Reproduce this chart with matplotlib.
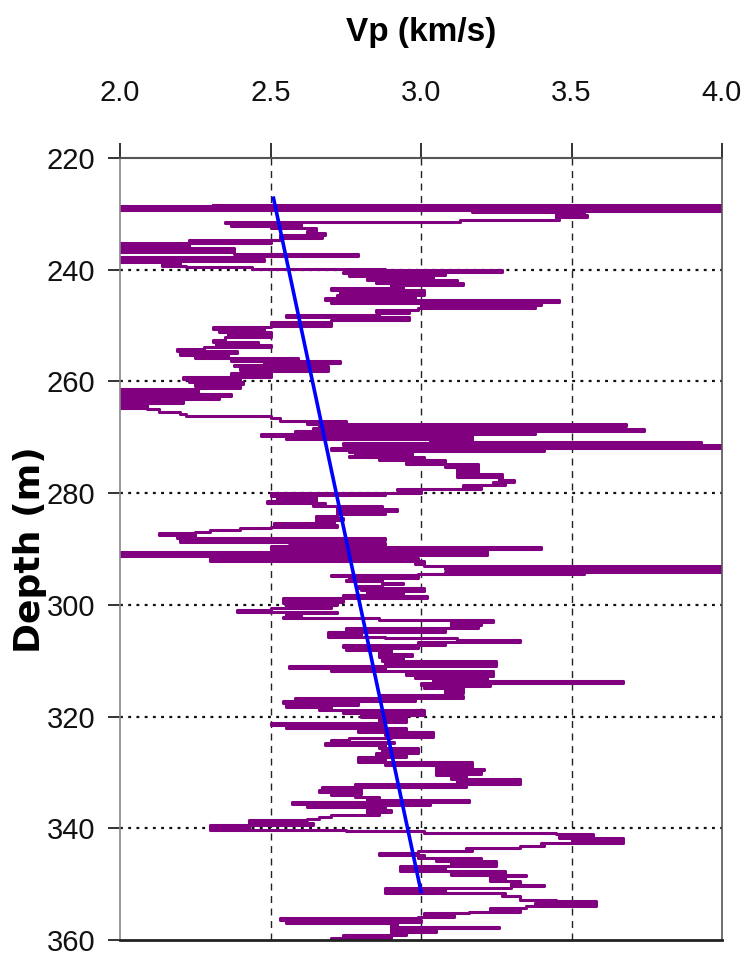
import matplotlib
matplotlib.use("Agg")
import matplotlib.pyplot as plt

plt.rcParams['font.family'] = ['Liberation Sans', 'DejaVu Sans']

# sonic log (depth in m, Vp in km/s)
log_depth = [
    228.4, 228.6, 228.9, 229.1, 229.3, 229.5, 229.7, 229.9, 230.2, 230.5,
    230.8, 231.1, 231.4, 231.7, 231.9, 232.1, 232.3, 232.6, 233.1, 233.4,
    233.7, 234.0, 234.3, 234.6, 235.0, 235.3, 235.6, 235.8, 236.2, 236.6,
    236.9, 237.2, 237.5, 237.8, 238.1, 238.4, 238.7, 239.0, 239.3, 239.6,
    239.9, 240.1, 240.4, 240.6, 240.9, 241.2, 241.5, 241.8, 242.1, 242.4,
    242.7, 243.0, 243.3, 243.6, 243.9, 244.2, 244.5, 244.8, 245.1, 245.4,
    245.7, 246.0, 246.3, 246.6, 246.9, 247.2, 247.5, 247.8, 248.1, 248.5,
    249.0, 249.4, 249.7, 250.0, 250.3, 250.6, 250.9, 251.2, 251.5, 251.8,
    252.1, 252.5, 252.9, 253.2, 253.5, 253.9, 254.2, 254.6, 254.9, 255.2,
    255.5, 255.8, 256.1, 256.4, 256.7, 257.0, 257.3, 257.6, 257.9, 258.2,
    258.5, 258.8, 259.2, 259.5, 259.8, 260.1, 260.5, 260.8, 261.1, 261.4,
    261.7, 262.0, 262.3, 262.6, 262.9, 263.2, 263.5, 263.8, 264.1, 264.4,
    264.7, 265.0, 265.4, 265.8, 266.2, 266.6, 267.0, 267.3, 267.6, 267.9,
    268.1, 268.3, 268.6, 268.9, 269.1, 269.4, 269.7, 270.0, 270.3, 270.6,
    270.9, 271.1, 271.4, 271.6, 271.8, 272.0, 272.3, 272.5, 272.7, 272.9,
    273.1, 273.3, 273.5, 273.8, 274.1, 274.4, 274.7, 275.0, 275.3, 275.6,
    275.9, 276.2, 276.5, 276.8, 277.1, 277.4, 277.7, 278.0, 278.3, 278.6,
    278.9, 279.2, 279.5, 279.9, 280.2, 280.4, 280.6, 280.8, 281.1, 281.4,
    281.7, 282.0, 282.3, 282.6, 282.9, 283.2, 283.5, 283.8, 284.1, 284.5,
    284.8, 285.1, 285.4, 285.7, 286.0, 286.3, 286.6, 286.9, 287.2, 287.5,
    287.8, 288.1, 288.4, 288.7, 289.0, 289.4, 289.7, 290.0, 290.3, 290.6,
    290.8, 291.1, 291.3, 291.6, 291.8, 292.1, 292.4, 292.7, 293.0, 293.3,
    293.5, 293.7, 293.9, 294.1, 294.3, 294.5, 294.7, 294.9, 295.2, 295.4,
    295.6, 295.8, 296.0, 296.3, 296.6, 296.9, 297.1, 297.3, 297.6, 297.9,
    298.2, 298.5, 298.8, 299.1, 299.4, 299.7, 300.0, 300.3, 300.6, 300.9,
    301.2, 301.5, 301.8, 302.1, 302.4, 302.7, 303.0, 303.3, 303.6, 303.9,
    304.2, 304.5, 304.8, 305.1, 305.4, 305.7, 306.0, 306.3, 306.6, 306.9,
    307.2, 307.5, 307.8, 308.1, 308.5, 308.8, 309.1, 309.4, 309.7, 310.0,
    310.4, 310.7, 311.0, 311.3, 311.6, 311.9, 312.2, 312.5, 312.8, 313.1,
    313.4, 313.7, 314.0, 314.3, 314.6, 314.9, 315.2, 315.5, 315.8, 316.1,
    316.4, 316.7, 317.0, 317.3, 317.6, 317.9, 318.2, 318.5, 318.8, 319.1,
    319.4, 319.7, 320.0, 320.3, 320.6, 320.9, 321.2, 321.5, 321.8, 322.1,
    322.4, 322.7, 323.0, 323.3, 323.6, 323.9, 324.2, 324.5, 324.8, 325.1,
    325.4, 325.7, 326.0, 326.3, 326.6, 326.9, 327.2, 327.5, 327.8, 328.1,
    328.4, 328.7, 329.0, 329.3, 329.6, 329.9, 330.2, 330.5, 330.8, 331.1,
    331.4, 331.7, 332.0, 332.3, 332.6, 332.9, 333.2, 333.5, 333.8, 334.1,
    334.4, 334.7, 335.0, 335.3, 335.6, 335.9, 336.2, 336.5, 336.8, 337.1,
    337.4, 337.7, 338.0, 338.3, 338.6, 338.9, 339.1, 339.4, 339.7, 340.0,
    340.3, 340.5, 340.8, 341.1, 341.4, 341.7, 342.0, 342.3, 342.6, 342.9,
    343.2, 343.5, 343.8, 344.1, 344.4, 344.7, 345.0, 345.3, 345.6, 345.9,
    346.2, 346.5, 346.8, 347.1, 347.4, 347.7, 348.0, 348.3, 348.6, 348.9,
    349.2, 349.5, 349.8, 350.1, 350.4, 350.7, 351.0, 351.3, 351.6, 351.9,
    352.2, 352.5, 352.8, 353.1, 353.4, 353.7, 354.0, 354.3, 354.6, 354.9,
    355.2, 355.5, 355.8, 356.1, 356.4, 356.7, 357.0, 357.3, 357.6, 357.9,
    358.2, 358.5, 358.8, 359.1, 359.4, 359.7, 360.0, 360.3,
]
log_vp = [
    2.31, 4.05, 1.95, 4.05, 2.00, 4.05, 3.17, 3.54, 3.45, 3.55,
    3.45, 3.46, 3.13, 2.35, 2.60, 2.37, 2.60, 2.50, 2.65, 2.62,
    2.68, 2.53, 2.67, 2.53, 2.23, 2.50, 2.00, 2.23, 2.00, 2.38,
    2.00, 2.38, 2.79, 2.47, 2.00, 2.48, 2.00, 2.20, 2.14, 2.22,
    2.44, 2.88, 3.27, 2.74, 3.08, 2.76, 3.04, 2.82, 3.12, 2.85,
    3.14, 2.90, 2.94, 2.70, 3.01, 2.73, 3.01, 2.72, 2.98, 2.68,
    3.46, 2.70, 3.40, 3.00, 3.38, 2.99, 2.85, 2.96, 2.86, 2.55,
    2.96, 2.70, 2.50, 2.70, 2.50, 2.31, 2.48, 2.33, 2.50, 2.36,
    2.50, 2.35, 2.31, 2.46, 2.32, 2.50, 2.28, 2.19, 2.39, 2.20,
    2.36, 2.25, 2.59, 2.37, 2.73, 2.48, 2.38, 2.69, 2.40, 2.69,
    2.50, 2.37, 2.50, 2.21, 2.40, 2.23, 2.41, 2.25, 2.40, 2.26,
    2.00, 2.26, 1.98, 2.37, 2.00, 2.33, 2.00, 2.21, 1.99, 2.09,
    1.99, 2.09, 2.13, 2.20, 2.22, 2.50, 2.53, 2.75, 2.62, 3.68,
    2.66, 3.55, 2.64, 3.74, 2.58, 3.38, 2.47, 3.17, 2.55, 3.17,
    3.03, 3.93, 2.74, 4.05, 2.78, 4.05, 2.70, 3.41, 2.76, 2.97,
    2.78, 2.97, 2.76, 3.01, 2.86, 3.08, 2.95, 3.19, 3.08, 3.19,
    3.12, 3.19, 3.12, 3.27, 3.12, 3.27, 3.26, 3.31, 3.24, 3.28,
    3.14, 3.20, 2.92, 3.00, 2.50, 2.88, 2.50, 2.65, 2.52, 2.65,
    2.49, 2.68, 2.64, 2.87, 2.72, 2.92, 2.72, 2.88, 2.72, 2.65,
    2.74, 2.65, 2.71, 2.51, 2.72, 2.50, 2.40, 2.30, 2.25, 2.13,
    2.25, 2.19, 2.88, 2.20, 2.56, 2.88, 2.50, 3.40, 2.50, 3.22,
    1.97, 3.22, 1.99, 2.30, 2.99, 2.30, 3.01, 2.98, 3.01, 4.05,
    3.08, 4.05, 3.53, 4.05, 3.08, 3.54, 2.99, 2.70, 2.99, 2.76,
    2.87, 2.75, 2.87, 2.94, 2.87, 2.79, 3.01, 2.80, 3.01, 2.82,
    2.94, 2.74, 3.02, 2.54, 2.74, 2.54, 2.72, 2.55, 2.70, 2.50,
    2.39, 2.72, 2.55, 2.60, 2.54, 2.86, 3.24, 3.10, 3.20, 3.10,
    3.19, 2.75, 3.08, 2.69, 2.80, 2.69, 2.88, 3.12, 3.33, 2.99,
    3.08, 2.74, 2.99, 2.75, 2.90, 2.86, 2.97, 2.86, 2.94, 2.87,
    3.25, 2.88, 3.25, 2.56, 2.88, 2.70, 3.24, 2.95, 3.24, 2.98,
    3.22, 3.04, 3.67, 3.00, 3.23, 3.01, 3.14, 3.08, 3.14, 3.08,
    2.86, 3.14, 2.58, 2.98, 2.54, 2.79, 2.55, 2.70, 2.66, 3.01,
    2.74, 3.01, 2.80, 2.95, 2.86, 2.95, 2.86, 2.50, 2.88, 2.55,
    2.95, 2.79, 3.04, 2.88, 3.04, 2.90, 2.76, 2.70, 2.91, 2.68,
    2.88, 2.86, 2.99, 2.87, 2.99, 2.85, 2.95, 2.79, 2.88, 2.79,
    3.17, 2.88, 3.17, 3.05, 3.21, 3.05, 3.20, 3.05, 3.15, 3.10,
    3.33, 3.12, 3.33, 2.78, 3.15, 2.67, 2.80, 2.66, 2.80, 2.70,
    2.78, 2.86, 2.82, 3.16, 2.57, 3.03, 2.62, 2.88, 2.82, 2.90,
    2.82, 2.86, 2.70, 2.66, 2.62, 2.43, 2.43, 2.64, 2.30, 2.43,
    2.30, 2.75, 3.01, 3.45, 3.57, 3.46, 3.67, 3.50, 3.67, 3.40,
    3.41, 3.33, 3.15, 3.17, 2.99, 2.86, 3.01, 2.99, 3.20, 3.05,
    3.25, 3.10, 3.25, 2.93, 3.08, 2.93, 3.28, 3.10, 3.35, 3.23,
    3.28, 3.23, 3.33, 3.30, 3.41, 3.30, 2.88, 3.08, 2.88, 3.28,
    3.27, 3.33, 3.33, 3.45, 3.58, 3.38, 3.58, 3.35, 3.23, 3.33,
    3.16, 3.01, 3.11, 2.99, 2.53, 3.00, 2.55, 2.92, 2.90, 3.26,
    2.90, 3.05, 2.90, 2.95, 2.74, 2.90, 2.70, 2.85,
]

# linear trend
trend_depth = [227.2, 351.3]
trend_vp = [2.51, 3.00]

x_ticks = [2.0, 2.5, 3.0, 3.5, 4.0]
y_ticks = [220, 240, 260, 280, 300, 320, 340, 360]

fig = plt.figure(figsize=(7.48, 9.58), dpi=100)
ax = fig.add_axes([120 / 748, 18 / 958, 602 / 748, 782 / 958])

ax.plot(log_vp, log_depth, color='#800080', lw=2.2, drawstyle='steps-post')
ax.plot(trend_vp, trend_depth, color='#0000ff', lw=2.6)

ax.set_xlim(2.0, 4.0)
ax.set_ylim(360, 220)
ax.set_xticks(x_ticks)
ax.set_xticklabels([f'{t:.1f}' for t in x_ticks])
ax.set_yticks(y_ticks)

ax.xaxis.tick_top()
ax.tick_params(axis='x', direction='out', length=11, width=1.2, pad=26,
               labelsize=21, colors='#111111')
ax.tick_params(axis='y', direction='out', length=9, width=1.2, pad=9,
               labelsize=21, colors='#111111')

for x in x_ticks[1:-1]:
    ax.axvline(x, color='#222222', lw=1.0, ls=(0, (5, 4)), zorder=0)
for y in y_ticks[1:-1]:
    ax.axhline(y, color='#111111', lw=1.6, ls=(0, (1.3, 2.4)), zorder=0)

ax.spines['top'].set_color('#555555')
ax.spines['top'].set_linewidth(1.5)
ax.spines['left'].set_color('#888888')
ax.spines['left'].set_linewidth(1.2)
ax.spines['right'].set_color('#555555')
ax.spines['right'].set_linewidth(1.2)
ax.spines['bottom'].set_color('#222222')
ax.spines['bottom'].set_linewidth(2.0)

fig.text(421 / 748, 1 - 32 / 958, 'Vp (km/s)', ha='center', va='center',
         fontsize=24, fontweight='bold')
fig.text(30 / 748, 1 - 550 / 958, 'Depth (m)', ha='center', va='center',
         rotation=90, fontsize=26, fontweight='bold', family='DejaVu Sans')

fig.savefig('out.png', dpi=100, facecolor='white')
